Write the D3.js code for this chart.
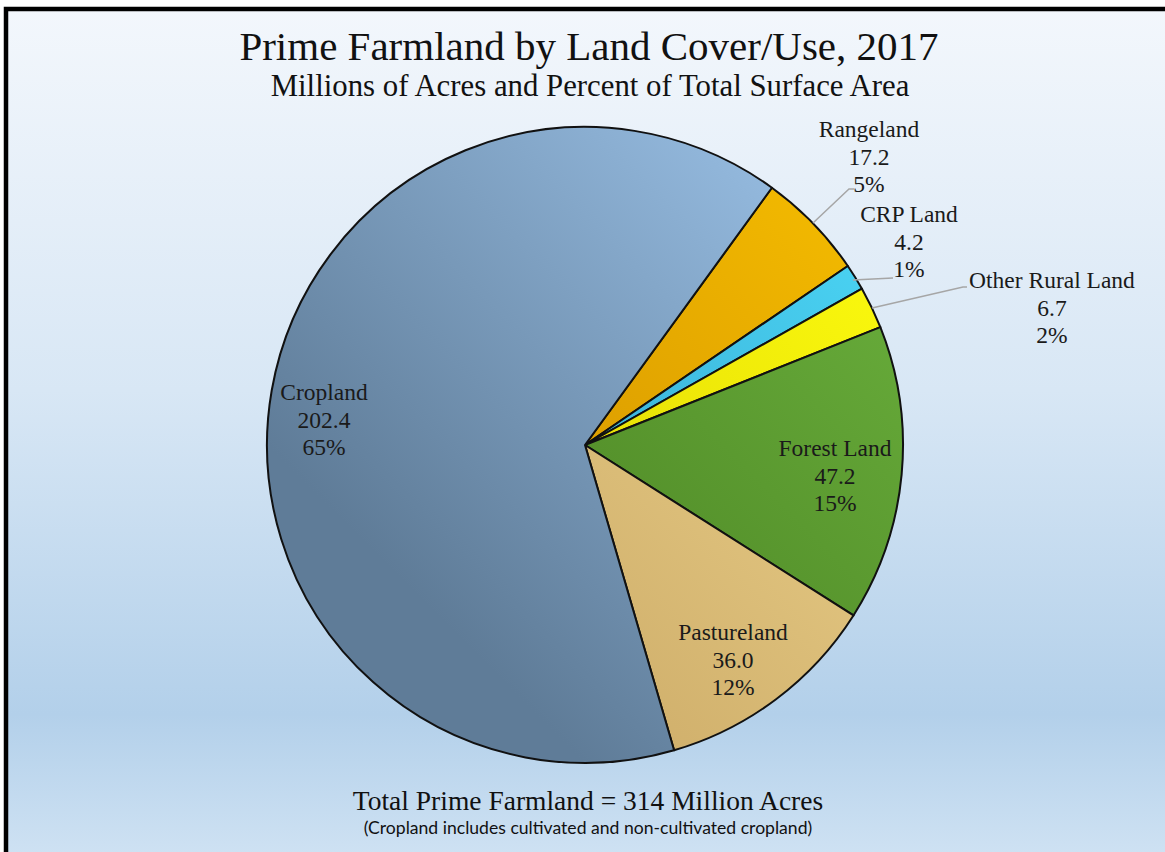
<!DOCTYPE html>
<html>
<head>
<meta charset="utf-8">
<script src="https://cdn.jsdelivr.net/npm/d3@7"></script>
<style>
  body { margin: 0; background: #fff; }
  svg { display: block; }
</style>
</head>
<body>
<div id="container"></div>
<script>
let w = 1165;
let h = 852;

// data
let categories = ["Rangeland", "CRP Land", "Other Rural Land", "Forest Land", "Pastureland", "Cropland"];
let acres = [17.2, 4.2, 6.7, 47.2, 36.0, 202.4];
let percents = ["5%", "1%", "2%", "15%", "12%", "65%"];
let lightColors = ["#f7bf00", "#4ddaf9", "#ffff10", "#6cb23e", "#f2d993", "#9dc4ea"];
let darkColors = ["#d08f00", "#339fc8", "#dcd000", "#4a8222", "#cdac68", "#5f7c98"];

let viz = d3.select("#container")
  .append("svg")
    .attr("width", w)
    .attr("height", h)
;

let defs = viz.append("defs");

// background gradient
let bg = defs.append("linearGradient").attr("id", "bg")
  .attr("x1", 0).attr("y1", 0).attr("x2", 0).attr("y2", 1);
bg.append("stop").attr("offset", 0).attr("stop-color", "#f3f7fc");
bg.append("stop").attr("offset", 0.45).attr("stop-color", "#d8e7f5");
bg.append("stop").attr("offset", 0.83).attr("stop-color", "#b3d0ea");
bg.append("stop").attr("offset", 1).attr("stop-color", "#cfe2f3");

viz.append("rect")
  .attr("x", 4).attr("y", 7)
  .attr("width", w).attr("height", h)
  .attr("fill", "url(#bg)");

// frame (only left and top show in the picture)
viz.append("path")
  .attr("d", "M6," + h + " V9 H" + w)
  .attr("fill", "none")
  .attr("stroke", "#000")
  .attr("stroke-width", 4.5);

let serif = "'Liberation Serif', 'Times New Roman', serif";

// title
viz.append("text")
  .attr("x", 589).attr("y", 60)
  .attr("text-anchor", "middle")
  .style("font-family", serif)
  .style("font-size", "41px")
  .attr("fill", "#111")
  .text("Prime Farmland by Land Cover/Use, 2017");

viz.append("text")
  .attr("x", 590).attr("y", 96)
  .attr("text-anchor", "middle")
  .style("font-family", serif)
  .style("font-size", "30.8px")
  .attr("fill", "#111")
  .text("Millions of Acres and Percent of Total Surface Area");

// pie
let cx = 585, cy = 445, r = 318;
let total = d3.sum(acres);
let startAngle = 36 * Math.PI / 180;

let pie = d3.pie().sort(null).value(d => d)
  .startAngle(startAngle).endAngle(startAngle + 2 * Math.PI);
let arc = d3.arc().innerRadius(0).outerRadius(r);
let arcs = pie(acres);

categories.forEach((c, i) => {
  let g = defs.append("linearGradient").attr("id", "grad" + i)
    .attr("gradientUnits", "userSpaceOnUse")
    .attr("x1", cx + r * 0.72).attr("y1", cy - r * 0.72)
    .attr("x2", cx - r * 0.72).attr("y2", cy + r * 0.72);
  g.append("stop").attr("offset", 0).attr("stop-color", lightColors[i]);
  g.append("stop").attr("offset", 1).attr("stop-color", darkColors[i]);
});

let graphGroup = viz.append("g").attr("transform", "translate(" + cx + "," + cy + ")");

graphGroup.selectAll(".slice").data(arcs).enter()
  .append("path")
    .attr("class", "slice")
    .attr("d", arc)
    .attr("fill", (d, i) => "url(#grad" + i + ")")
    .attr("stroke", "#111")
    .attr("stroke-width", 2)
    .attr("stroke-linejoin", "round");

// labels (positions chosen to match the picture)
let labelPos = [
  {x: 869, y: 137, lead: [[813, 223], [849, 189], [854, 189]]},
  {x: 909, y: 222, lead: [[853, 280], [893, 278]]},
  {x: 1052, y: 288, lead: [[872, 308], [963, 287], [967, 287]]},
  {x: 835, y: 456, lead: null},
  {x: 733, y: 640, lead: null},
  {x: 324, y: 400, lead: null}
];

let line = d3.line();
labelPos.forEach((p, i) => {
  if (p.lead) {
    viz.append("path")
      .attr("d", line(p.lead))
      .attr("fill", "none")
      .attr("stroke", "#a6a6a6")
      .attr("stroke-width", 1.5);
  }
  let t = viz.append("text")
    .attr("text-anchor", "middle")
    .style("font-family", serif)
    .style("font-size", "23.5px")
    .attr("fill", "#1a1a1a");
  let lines = [categories[i], d3.format(".1f")(acres[i]), percents[i]];
  lines.forEach((s, k) => {
    t.append("tspan").attr("x", p.x).attr("y", p.y + k * 27.5).text(s);
  });
});

// footer
viz.append("text")
  .attr("x", 588).attr("y", 810)
  .attr("text-anchor", "middle")
  .style("font-family", serif)
  .style("font-size", "27.5px")
  .attr("fill", "#111")
  .text("Total Prime Farmland = " + Math.round(total) + " Million Acres");

viz.append("text")
  .attr("x", 588).attr("y", 834)
  .attr("text-anchor", "middle")
  .style("font-family", "Lato, 'Open Sans', sans-serif")
  .style("font-size", "17.6px")
  .attr("fill", "#111")
  .text("(Cropland includes cultivated and non-cultivated cropland)");
</script>
</body>
</html>
